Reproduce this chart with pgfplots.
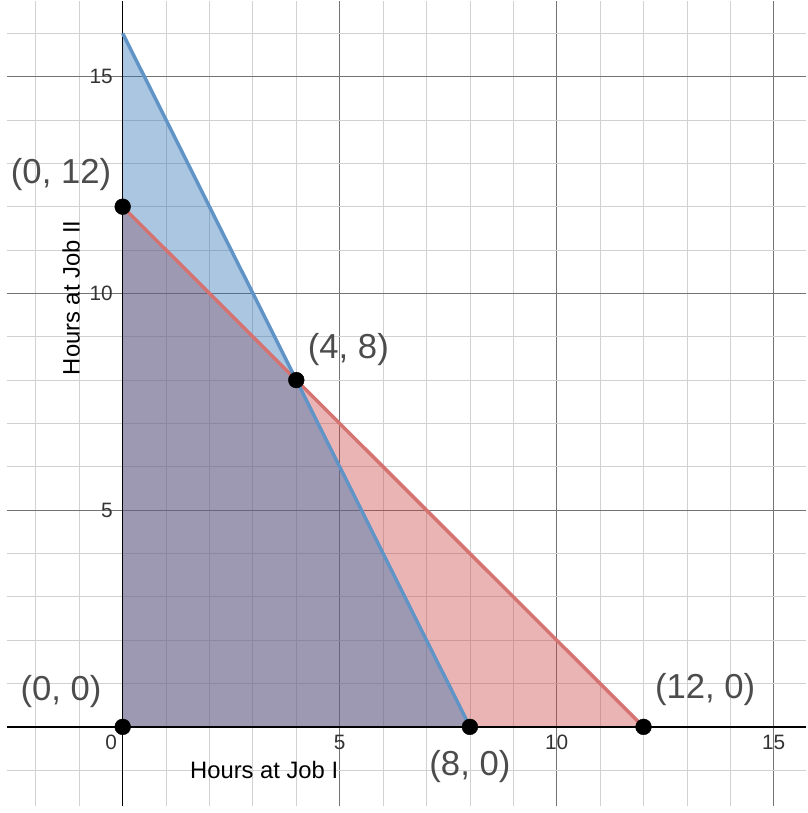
\documentclass[border=0pt]{standalone}
\usepackage{pgfplots}
\pgfplotsset{compat=1.18}
\usepackage{fontspec}
\setmainfont{Liberation Sans}
\definecolor{dred}{HTML}{C74440}
\definecolor{dblue}{HTML}{2D70B3}
\begin{document}
\begin{tikzpicture}
\begin{axis}[width=807pt,height=813pt,scale only axis,
 xmin=-2.67,xmax=15.75,ymin=-1.83,ymax=16.75,
 xtick={-5,0,5,10,15},ytick={-5,0,5,10,15},
 minor xtick={-2,-1,1,2,3,4,6,7,8,9,11,12,13,14},
 minor ytick={-1,1,2,3,4,6,7,8,9,11,12,13,14,16},
 grid=both, major grid style={black!55,line width=0.8pt},
 minor grid style={black!18,line width=0.8pt},
 xticklabels={}, yticklabels={}, tick style={draw=none},
 axis line style={draw=none}, clip=false]
\addplot[fill=dred,fill opacity=0.4,draw=none] coordinates {(0,0)(0,12)(12,0)} -- cycle;
\addplot[fill=dblue,fill opacity=0.4,draw=none] coordinates {(0,0)(0,16)(8,0)} -- cycle;
\draw[black,line width=1.6pt] (axis cs:-2.67,0) -- (axis cs:15.75,0);
\draw[black,line width=1.6pt] (axis cs:0,-1.83) -- (axis cs:0,16.75);
\addplot[color=dred!75,line width=3.5pt] coordinates {(0,12)(12,0)};
\addplot[color=dblue!75,line width=3.5pt] coordinates {(0,16)(8,0)};
\addplot[only marks,mark=*,mark size=8pt,black] coordinates {(0,0)(0,12)(4,8)(8,0)(12,0)};
\begin{scope}[every node/.style={font=\fontsize{21}{23}\selectfont,text=black!80}]
\node[anchor=east] at (axis cs:-0.15,15) {15};
\node[anchor=east] at (axis cs:-0.15,10) {10};
\node[anchor=east] at (axis cs:-0.15,5) {5};
\node[anchor=east] at (axis cs:-0.05,-0.35) {0};
\node at (axis cs:5,-0.35) {5};
\node at (axis cs:10,-0.35) {10};
\node at (axis cs:15,-0.35) {15};
\end{scope}
\begin{scope}[every node/.style={font=\fontsize{24}{26}\selectfont,text=black}]
\node[rotate=90] at (axis cs:-1.19,9.9) {Hours at Job II};
\node at (axis cs:3.26,-1.0) {Hours at Job I};
\end{scope}
\begin{scope}[every node/.style={font=\fontsize{35}{37}\selectfont,text=black!70}]
\node at (axis cs:-1.42,12.75) {(0, 12)};
\node at (axis cs:5.2,8.7) {(4, 8)};
\node at (axis cs:-1.42,0.82) {(0, 0)};
\node at (axis cs:13.42,0.87) {(12, 0)};
\node at (axis cs:8.0,-0.91) {(8, 0)};
\end{scope}
\end{axis}
\end{tikzpicture}
\end{document}
